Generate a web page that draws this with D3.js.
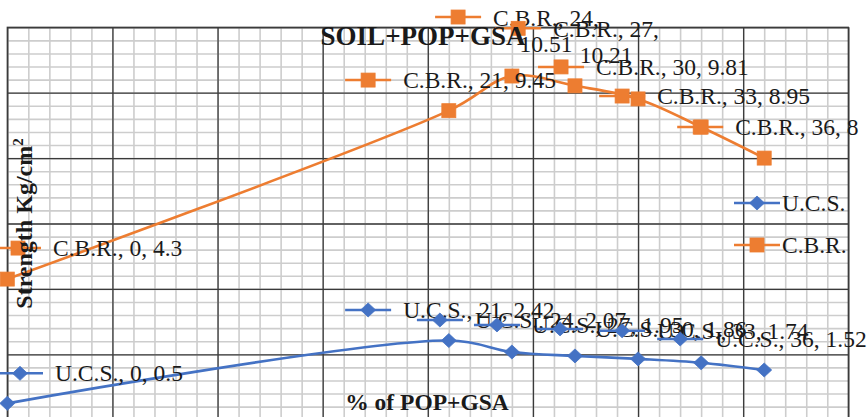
<!DOCTYPE html>
<html>
<head>
<meta charset="utf-8">
<script src="https://cdn.jsdelivr.net/npm/d3@7"></script>
<style>
  html, body { margin: 0; padding: 0; background: #fff; }
  svg { display: block; }
  text { font-family: "Liberation Serif", "Times New Roman", serif; fill: #1a1a1a; }
</style>
</head>
<body>
<svg id="chart" width="868" height="417"></svg>
<script>
// ---- data ----
const pct = [0, 21, 24, 27, 30, 33, 36];              // % of POP+GSA
const ucs = [0.5, 2.42, 2.07, 1.95, 1.86, 1.74, 1.52];
const cbr = [4.3, 9.45, 10.51, 10.21, 9.81, 8.95, 8];
const seriesNames = ["U.C.S.", "C.B.R."];
const xMajorTicks = d3.range(0, 40.01, 5);
const xMinorTicks = d3.range(0, 40.01, 1);
const yMajorTicks = d3.range(0, 12.01, 2);
const yMinorTicks = d3.range(0, 12.01, 0.4);
const chartTitle = "SOIL+POP+GSA";
const xTitle = "% of POP+GSA";
const yTitle = "Strength Kg/cm";

// ---- layout ----
const plot = { left: 7.3, right: 848.3, top: 27.3, bottom: 419.7 };
const colors = { "U.C.S.": "#4472C4", "C.B.R.": "#ED7D31" };
// pixel offsets from each point to its data-label key marker
const ucsLabelOffsets = [[12.7, -30], [-80.7, -30.6], [-72, -32], [-78, -31], [-78, -30], [-79, -32], [-84, -31]];
const cbrLabelOffsets = [[10.7, -31], [-80.7, -30.6], [-53.8, -59], [-56.8, -57.5], [-77, -32], [-79, -31], [-64, -31]];
const cbrWrapped = [false, false, true, true, false, false, false];

const svg = d3.select("#chart");
const x = d3.scaleLinear().domain([0, 40]).range([plot.left, plot.right]);
const y = d3.scaleLinear().domain([0, 12]).range([plot.bottom, plot.top]);
const W = plot.right - plot.left, H = plot.bottom - plot.top;

// ---- gridlines ----
function grid(axisGen, ticks, size, cls, color, width, transform) {
  const g = svg.append("g").attr("class", cls).attr("transform", transform)
    .call(axisGen.tickValues(ticks).tickSize(-size).tickFormat(""));
  g.select(".domain").remove();
  g.selectAll(".tick line").attr("stroke", color).attr("stroke-width", width);
}
grid(d3.axisLeft(y), yMinorTicks, W, "y-minor", "#cdcdcd", 1.6, `translate(${plot.left},0)`);
grid(d3.axisBottom(x), xMinorTicks, H, "x-minor", "#cdcdcd", 1.6, `translate(0,${plot.bottom})`);
grid(d3.axisLeft(y), yMajorTicks, W, "y-major", "#3a3a3a", 1.3, `translate(${plot.left},0)`);
grid(d3.axisBottom(x), xMajorTicks, H, "x-major", "#3a3a3a", 1.3, `translate(0,${plot.bottom})`);
svg.append("rect").attr("x", plot.left).attr("y", plot.top).attr("width", W).attr("height", H)
  .attr("fill", "none").attr("stroke", "#3a3a3a").attr("stroke-width", 1.3);

// ---- markers ----
function marker(sel, name, cx, cy) {
  const c = colors[name];
  if (name === "U.C.S.") {
    sel.append("path").attr("d", `M${cx},${cy - 7}L${cx + 7.5},${cy}L${cx},${cy + 7}L${cx - 7.5},${cy}Z`)
      .attr("fill", c).attr("stroke", c).attr("stroke-width", 0.8);
  } else {
    sel.append("rect").attr("x", cx - 7).attr("y", cy - 7).attr("width", 14).attr("height", 14)
      .attr("fill", c).attr("stroke", c).attr("stroke-width", 0.8);
  }
}
function keySymbol(sel, name, cx, cy) {
  sel.append("line").attr("x1", cx - 23).attr("x2", cx + 23).attr("y1", cy).attr("y2", cy)
    .attr("stroke", colors[name]).attr("stroke-width", 2.5);
  marker(sel, name, cx, cy);
}

// ---- series ----
const series = [
  { name: "U.C.S.", values: ucs, offsets: ucsLabelOffsets, wrap: pct.map(() => false) },
  { name: "C.B.R.", values: cbr, offsets: cbrLabelOffsets, wrap: cbrWrapped }
];
const line = d3.line().x(d => x(d[0])).y(d => y(d[1])).curve(d3.curveCatmullRom.alpha(0.5));

series.forEach(s => {
  const pts = pct.map((p, i) => [p, s.values[i]]);
  svg.append("path").datum(pts).attr("d", line)
    .attr("fill", "none").attr("stroke", colors[s.name]).attr("stroke-width", 2.6);
  const mg = svg.append("g");
  pts.forEach(d => marker(mg, s.name, x(d[0]), y(d[1])));
});

// ---- data labels (with legend keys) ----
series.forEach(s => {
  const lg = svg.append("g").attr("class", "labels");
  pct.forEach((p, i) => {
    const kx = x(p) + s.offsets[i][0];
    const ky = y(s.values[i]) + s.offsets[i][1];
    keySymbol(lg, s.name, kx, ky);
    const tx = kx + 35;
    if (s.wrap[i]) {
      const l1 = `${s.name}, ${p},`, l2 = `${s.values[i]}`;
      const t1 = lg.append("text").attr("x", tx).attr("y", ky + 9).attr("font-size", 23.5).text(l1);
      const w1 = t1.node().getComputedTextLength();
      lg.append("text").attr("x", tx + w1 / 2).attr("y", ky + 35).attr("font-size", 23.5)
        .attr("text-anchor", "middle").text(l2);
    } else {
      lg.append("text").attr("x", tx).attr("y", ky + 8).attr("font-size", 23.5)
        .text(`${s.name}, ${p}, ${s.values[i]}`);
    }
  });
});

// ---- legend ----
const legend = svg.append("g").attr("class", "legend");
seriesNames.forEach((name, i) => {
  const ly = 203 + i * 42;
  keySymbol(legend, name, 757, ly);
  legend.append("text").attr("x", 782).attr("y", ly + 8).attr("font-size", 23.5).text(name);
});

// ---- titles ----
svg.append("text").attr("x", 423).attr("y", 45).attr("text-anchor", "middle")
  .attr("font-size", 27).attr("font-weight", "bold").text(chartTitle);
svg.append("text").attr("x", 427).attr("y", 410).attr("text-anchor", "middle")
  .attr("font-size", 23.5).attr("font-weight", "bold").text(xTitle);
const yt = svg.append("text").attr("transform", `translate(32,${(plot.top + plot.bottom) / 2}) rotate(-90)`)
  .attr("text-anchor", "middle").attr("font-size", 24).attr("font-weight", "bold");
yt.append("tspan").text(yTitle);
yt.append("tspan").attr("font-size", 15).attr("dy", -9).text("2");
</script>
</body>
</html>
